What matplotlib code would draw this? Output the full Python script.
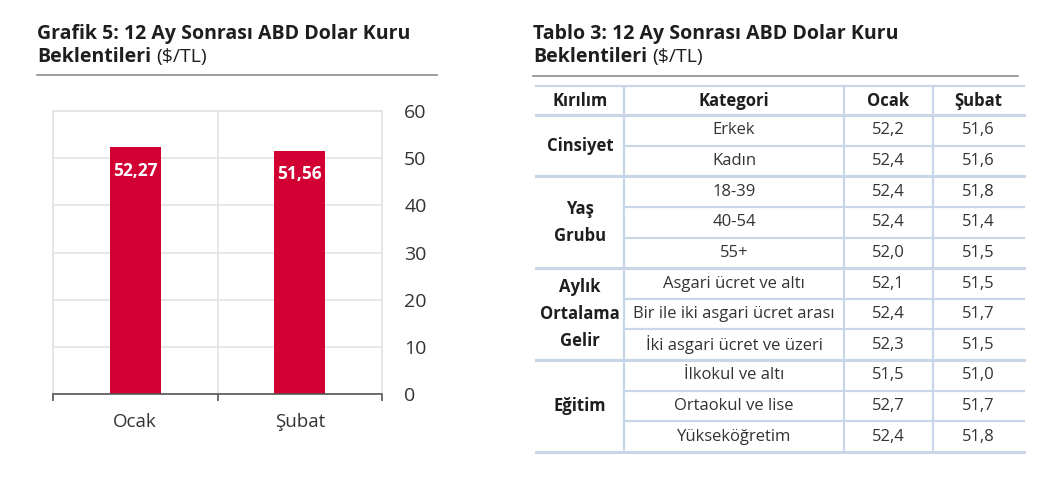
import numpy as np
import matplotlib.pyplot as plt

plt.rcParams['font.family'] = ['Open Sans', 'DejaVu Sans']

# --- chart data
months = ['Ocak', 'Şubat']
usd_expect = [52.27, 51.56]
value_labels = ['52,27', '51,56']
y_ticks = [0, 10, 20, 30, 40, 50, 60]

# --- table data
table_header = ['Kırılım', 'Kategori', 'Ocak', 'Şubat']
groups = ['Cinsiyet', 'Yaş\nGrubu', 'Aylık\nOrtalama\nGelir', 'Eğitim']
group_sizes = [2, 3, 3, 3]
categories = ['Erkek', 'Kadın', '18-39', '40-54', '55+',
              'Asgari ücret ve altı', 'Bir ile iki asgari ücret arası',
              'İki asgari ücret ve üzeri', 'İlkokul ve altı',
              'Ortaokul ve lise', 'Yükseköğretim']
ocak_vals = ['52,2', '52,4', '52,4', '52,4', '52,0', '52,1', '52,4', '52,3',
             '51,5', '52,7', '52,4']
subat_vals = ['51,6', '51,6', '51,8', '51,4', '51,5', '51,5', '51,7', '51,5',
              '51,0', '51,7', '51,8']

W, H = 1039, 496
fig = plt.figure(figsize=(W / 100, H / 100), dpi=100)

red = '#d20032'
txt = '#1e1e1e'
body = '#333333'
grid_c = '#e3e3e3'
tbl_line = '#c9d6e8'

# overlay axes in pixel coordinates for titles / table
ov = fig.add_axes([0, 0, 1, 1])
ov.set_xlim(0, W)
ov.set_ylim(H, 0)
ov.axis('off')

# --- bar chart
ax = fig.add_axes([53 / W, 1 - 394 / H, (382 - 53) / W, (394 - 111) / H])
x = np.arange(len(months))
ax.bar(x, usd_expect, width=0.31, color=red, zorder=3)
for xi, v, lab in zip(x, usd_expect, value_labels):
    ax.text(xi, v - 4.9, lab, ha='center', va='center', color='white',
            fontsize=12.5, fontweight='bold', zorder=4)
ax.set_xlim(-0.5, len(months) - 0.5)
ax.set_ylim(0, 60)
ax.set_yticks(y_ticks)
ax.yaxis.tick_right()
ax.tick_params(axis='y', length=0, pad=16, labelsize=14, labelcolor=body)
ax.set_xticks(x)
ax.set_xticklabels(months)
ax.set_xticks(np.arange(len(months) + 1) - 0.5, minor=True)
ax.tick_params(axis='x', which='major', length=0, pad=14, labelsize=13.5,
               labelcolor=body)
ax.tick_params(axis='x', which='minor', length=5, width=1.2, color='#555555')
ax.grid(axis='y', color=grid_c, linewidth=1.2, zorder=0)
ax.grid(axis='x', which='minor', color=grid_c, linewidth=1.2, zorder=0)
for s in ['top', 'left', 'right']:
    ax.spines[s].set_color(grid_c)
    ax.spines[s].set_linewidth(1.2)
ax.spines['bottom'].set_color('#555555')
ax.spines['bottom'].set_linewidth(1.2)
ax.spines['bottom'].set_zorder(5)

# --- titles
renderer = fig.canvas.get_renderer()


def title(x0, line1, bold2, rest2):
    ov.text(x0, 39, line1, fontsize=14, fontweight='bold', color=txt,
            va='baseline')
    t = ov.text(x0, 62, bold2, fontsize=14, fontweight='bold', color=txt,
                va='baseline')
    bb = t.get_window_extent(renderer)
    ov.text(bb.x1 + 5, 62, rest2, fontsize=14, color=txt, va='baseline')


title(37, 'Grafik 5: 12 Ay Sonrası ABD Dolar Kuru', 'Beklentileri', '($/TL)')
title(533, 'Tablo 3: 12 Ay Sonrası ABD Dolar Kuru', 'Beklentileri', '($/TL)')
ov.plot([37, 437], [75, 75], color='#8c8c8c', lw=1.2)
ov.plot([533, 1018], [76, 76], color='#8c8c8c', lw=1.2)

# --- table
col_edges = [536, 624, 844, 933, 1024]
col_mid = [(a + b) / 2 for a, b in zip(col_edges[:-1], col_edges[1:])]
top, head_bot, bottom = 86, 115, 452
n = len(categories)
rh = (bottom - head_bot) / n
lw = 1.6
fs = 12

ov.plot([col_edges[0], col_edges[-1]], [top, top], color=tbl_line, lw=lw)
ov.plot([col_edges[0], col_edges[-1]], [head_bot, head_bot], color=tbl_line, lw=lw + 0.6)
for cx in col_edges[1:-1]:
    ov.plot([cx, cx], [top, bottom], color=tbl_line, lw=lw)
for c, h in zip(col_mid, table_header):
    ov.text(c, (top + head_bot) / 2, h, ha='center', va='center',
            fontsize=fs, fontweight='bold', color=txt)

row = 0
for g, size in zip(groups, group_sizes):
    y0 = head_bot + row * rh
    y1 = head_bot + (row + size) * rh
    parts = g.split('\n')
    gc = (y0 + y1) / 2
    for k, p in enumerate(parts):
        ov.text(col_mid[0], gc + (k - (len(parts) - 1) / 2) * 27, p,
                ha='center', va='center', fontsize=fs, fontweight='bold',
                color=txt)
    for r in range(row, row + size):
        yc = head_bot + (r + 0.5) * rh
        ov.text(col_mid[1], yc, categories[r], ha='center', va='center',
                fontsize=fs, color=body)
        ov.text(col_mid[2], yc, ocak_vals[r], ha='center', va='center',
                fontsize=fs, color=body)
        ov.text(col_mid[3], yc, subat_vals[r], ha='center', va='center',
                fontsize=fs, color=body)
        if r < row + size - 1:
            yl = head_bot + (r + 1) * rh
            ov.plot([col_edges[1], col_edges[-1]], [yl, yl], color=tbl_line, lw=lw)
    ov.plot([col_edges[0], col_edges[-1]], [y1, y1], color=tbl_line, lw=lw + 0.6)
    row += size

fig.savefig('out.png', dpi=100)
